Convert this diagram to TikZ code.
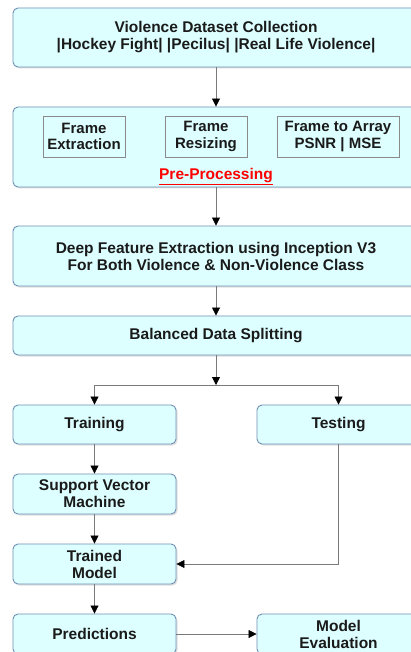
\documentclass[tikz,border=0pt]{standalone}
\usepackage{fontspec}
\setmainfont{Liberation Sans}
\usetikzlibrary{arrows.meta, positioning, calc, shadows}
\definecolor{boxfill}{HTML}{DDFFFF}
\definecolor{boxline}{HTML}{6F8FB3}
\definecolor{innerline}{HTML}{8A8A8A}
\definecolor{linkgray}{HTML}{7A7A7A}
\definecolor{txtdark}{HTML}{1A1A1A}

\begin{document}
\begin{tikzpicture}[x=1pt, y=-1pt,
  stage/.style={draw=boxline, fill=boxfill, line width=0.9pt, rounded corners=5pt,
    drop shadow={shadow xshift=1.5pt, shadow yshift=-1.5pt, opacity=0.25},
    align=center, inner sep=0pt, text=txtdark,
    font=\fontsize{15.5}{17}\selectfont\bfseries},
  substage/.style={draw=innerline, fill=boxfill, line width=0.8pt,
    align=center, inner sep=0pt, text=txtdark,
    font=\fontsize{15}{16.5}\selectfont\bfseries},
  link/.style={draw=linkgray, line width=0.8pt, -{Triangle[black, length=8pt, width=8pt]}}]

% Canvas (the figure is cut on the right and at the bottom)
\useasboundingbox (0,0) rectangle (411,652);
\clip (0,0) rectangle (411,652);
\fill[white] (0,0) rectangle (411,652);

% --- Main column ---
\node[stage, minimum width=406pt, minimum height=59pt] (collect) at (216,37.5)
  {Violence Dataset Collection\\|Hockey Fight| |Pecilus| |Real Life Violence|};

\node[stage, minimum width=406pt, minimum height=80pt] (prep) at (216,147) {};
\node[substage, minimum width=82pt, minimum height=41pt] (fext) at (84,136.5)
  {Frame\\Extraction};
\node[substage, minimum width=82pt, minimum height=41pt] (fres) at (206,136.5)
  {Frame\\Resizing};
\node[substage, minimum width=122pt, minimum height=41pt] (farr) at (338,136.5)
  {Frame to Array\\PSNR | MSE};
\node[text=red, font=\fontsize{15.5}{17}\selectfont\bfseries] (preplbl) at (216,176.5)
  {\underline{Pre-Processing}};

\node[stage, minimum width=406pt, minimum height=60pt] (deep) at (216,256)
  {Deep Feature Extraction using Inception V3\\For Both Violence \& Non-Violence Class};

\node[stage, minimum width=406pt, minimum height=39pt] (split) at (216,335.5)
  {Balanced Data Splitting};

\coordinate (fork) at (216,385);

% --- Two branches ---
\node[stage, minimum width=163pt, minimum height=39pt] (train) at (94.5,424.5) {Training};
\node[stage, minimum width=163pt, minimum height=39pt] (test) at (338.5,424.5) {Testing};

\node[stage, minimum width=163pt, minimum height=40pt] (svm) at (94.5,494)
  {Support Vector\\Machine};
\node[stage, minimum width=163pt, minimum height=40pt] (model) at (94.5,564)
  {Trained\\Model};
\node[stage, minimum width=163pt, minimum height=40pt] (pred) at (94.5,634) {Predictions};
\node[stage, minimum width=163pt, minimum height=40pt] (eval) at (338.5,634)
  {Model\\Evaluation};

% --- Connectors ---
\draw[link] (collect) -- (prep);
\draw[link] (prep) -- (deep);
\draw[link] (deep) -- (split);
\draw[link] (split) -- (fork);
\draw[link] (fork) -| (train);
\draw[link] (fork) -| (test);
\draw[link] (train) -- (svm);
\draw[link] (svm) -- (model);
\draw[link] (test.south) |- (model.east);
\draw[link] (model) -- (pred);
\draw[link] (pred) -- (eval);

\end{tikzpicture}
\end{document}
